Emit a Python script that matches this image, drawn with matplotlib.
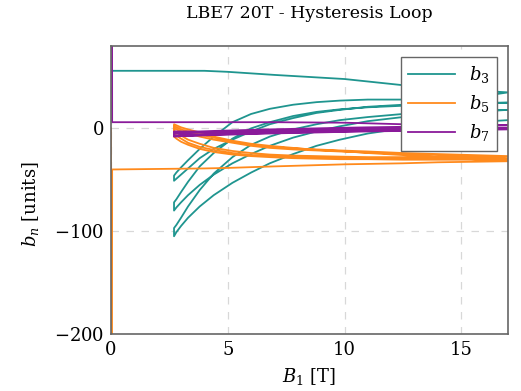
import numpy as np
import matplotlib
matplotlib.use('Agg')
import matplotlib.pyplot as plt

plt.rcParams['font.family'] = 'DejaVu Serif'
plt.rcParams['mathtext.fontset'] = 'dejavuserif'

TEAL = '#1f958f'
ORANGE = '#ff8a1c'
PURPLE = '#8a1a9a'

# initial ramp 0 -> 17 T
ramp_B = [0.0, 0.02, 0.05, 2.0, 4.0, 5.0, 7.0, 10.0, 12.5, 14.0, 17.0]
ramp_b3 = [56, 56, 56, 56, 56, 55, 52, 48, 42, 39, 35]
ramp_b5 = [0, -900, -40, -39.5, -39, -38.5, -37, -35, -34, -33, -32]
ramp_b7 = [900, 900, 6, 6, 6, 6, 6, 5.5, 4, 3.5, 3]

# loop branches, all sampled on this field grid (T)
loop_B = [2.7, 2.8, 3.0, 3.3, 3.8, 4.4, 5.2, 6.0, 6.8, 7.8, 8.8, 9.8, 11, 12.5, 14, 15.5, 17]

# down-ramp / up-ramp pairs for three cycles
b3_loops = [
    [-46, -43, -38, -31, -20, -8, 6, 14, 19, 23, 25.5, 27, 28, 28, 28, 30, 35],
    [-51, -49, -45, -39, -29, -20, -11, -3, 4, 10, 15, 18, 21, 23, 24, 25, 25],
    [-72, -69, -62, -52, -37, -24, -10, 0, 6, 12, 16, 18.5, 20.5, 22, 23, 24, 25],
    [-80, -77, -72, -65, -55, -45, -34, -25, -17, -9, -3, 2, 7, 11, 14, 16, 18],
    [-97, -94, -87, -76, -60, -44, -28, -16, -8, -1, 4, 8, 11, 14, 16, 17, 18],
    [-105, -101, -95, -87, -76, -65, -53, -43, -34, -25, -17, -11, -5, 0, 3, 6, 8],
]

b5_loops = [
    [4, 3, 1, -1, -4, -8, -12, -15, -17, -19, -21, -22, -24, -26, -28, -30, -32],
    [-2, -4, -7, -11, -15, -19, -22, -24, -25.5, -26.5, -27, -27.5, -28, -28, -28, -28, -27],
    [2, 1, -1, -3, -6, -9, -13, -16, -18, -19.5, -20.5, -21.5, -22.5, -24, -25, -26, -27],
    [-5, -7, -10, -14, -18, -21, -24, -26, -27, -28, -28.5, -29, -29, -29.5, -29.5, -29.5, -29],
    [0, -1, -3, -5, -8, -11, -14, -17, -19, -20.5, -21.5, -22.5, -23.5, -25, -26, -27.5, -29],
    [-8, -10, -13, -16, -20, -23, -25.5, -27, -28, -29, -29.5, -30, -30, -30.5, -30.5, -30.5, -30.5],
]

b7_loops = [
    [-3, -3, -3, -3, -3, -2.5, -2, -1.5, -1, -0.5, 0, 0.5, 1, 1.5, 2, 2.5, 3],
    [-7, -7, -6.5, -6.5, -6, -5.5, -5, -4.5, -4, -3.5, -3, -2.5, -2, -1.5, -1, -0.5, 0],
    [-4, -4, -4, -4, -3.5, -3.5, -3, -2.5, -2, -1.5, -1, -0.5, 0, 0.5, 1, 1, 0],
    [-7.5, -7.5, -7, -7, -6.5, -6, -5.5, -5, -4.5, -4, -3.5, -3, -2.5, -2, -1.5, -1, -0.5],
    [-5, -5, -4.5, -4.5, -4, -4, -3.5, -3, -2.5, -2, -1.5, -1, -0.5, 0, 0.5, 0.5, -0.5],
    [-8, -8, -7.5, -7.5, -7, -6.5, -6, -5.5, -5, -4.5, -4, -3.5, -3, -2.5, -2, -1.5, -1],
]


def full_path(ramp_vals, loops):
    # stitch the ramp and the loop branches into one trace
    B = list(ramp_B)
    v = list(ramp_vals)
    for i, br in enumerate(loops):
        if i % 2 == 0:
            B += loop_B[::-1]
            v += br[::-1]
        else:
            B += loop_B
            v += br
    return B, v


fig = plt.figure(figsize=(5.21, 3.91), dpi=100)
ax = fig.add_axes([0.213, 0.146, 0.762, 0.736])

for vals, loops, col, lab in [(ramp_b3, b3_loops, TEAL, '$b_3$'),
                              (ramp_b5, b5_loops, ORANGE, '$b_5$'),
                              (ramp_b7, b7_loops, PURPLE, '$b_7$')]:
    B, v = full_path(vals, loops)
    ax.plot(B, v, color=col, lw=1.3, label=lab)

ax.set_xlim(0, 17)
ax.set_ylim(-200, 80)
ax.set_xticks([0, 5, 10, 15])
ax.set_yticks([-200, -100, 0])
ax.set_yticklabels(['$-200$', '$-100$', '$0$'])
ax.grid(True, ls=(0, (6, 6)), color='#d8d8d8', lw=0.9)
ax.tick_params(length=0, labelsize=13, pad=5)
for s in ax.spines.values():
    s.set_color('#666666')
    s.set_linewidth(1.2)

ax.set_xlabel('$B_1$ [T]', fontsize=13, labelpad=5)
ax.set_ylabel('$b_n$ [units]', fontsize=13)
ax.yaxis.set_label_coords(-0.175, 0.45)
ax.set_title('LBE7 20T - Hysteresis Loop', fontsize=12.5, pad=20)

leg = ax.legend(loc='upper right', fontsize=13, frameon=True, fancybox=False,
                handlelength=2.6, borderaxespad=0.6, labelspacing=0.45)
leg.get_frame().set_edgecolor('#666666')
leg.get_frame().set_linewidth(1.0)
leg.get_frame().set_alpha(1)

fig.savefig('out.png', dpi=100)
